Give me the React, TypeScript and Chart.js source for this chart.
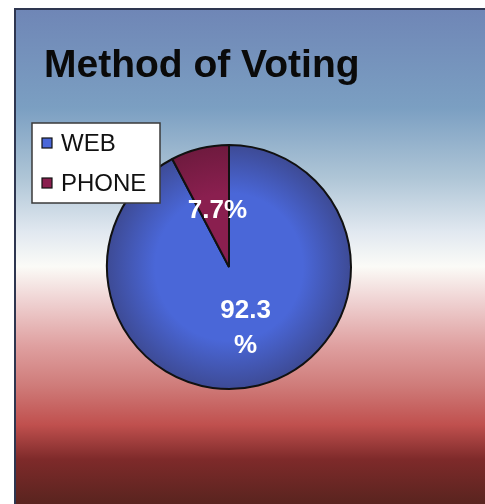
import React, { useEffect, useRef } from "react";
import { Chart, registerables } from "chart.js";

Chart.register(...registerables);

const categories = ["WEB", "PHONE"];
const shares = [92.3, 7.7];
const sliceLabels = [["92.3", "%"], ["7.7%"]];
const sliceColors = ["#4a67d8", "#8a1f4f"];
const sliceEdgeColors = ["#3d4a94", "#6e1a3e"];
const titleText = "Method of Voting";

const W = 485;
const H = 504;

const backgroundPlugin = {
  id: "bgFrame",
  beforeDraw(chart: any) {
    const ctx = chart.ctx;
    ctx.save();
    ctx.fillStyle = "#ffffff";
    ctx.fillRect(0, 0, W, H);
    const g = ctx.createLinearGradient(0, 9, 0, H);
    g.addColorStop(0, "#6f86b6");
    g.addColorStop(0.2, "#7b9fc2");
    g.addColorStop(0.34, "#aec5d6");
    g.addColorStop(0.45, "#e1e8f0");
    g.addColorStop(0.52, "#fbfbf7");
    g.addColorStop(0.59, "#efd2d2");
    g.addColorStop(0.68, "#dfa0a0");
    g.addColorStop(0.76, "#cf7c7a");
    g.addColorStop(0.84, "#c0504e");
    g.addColorStop(0.91, "#7e2a2a");
    g.addColorStop(1, "#59241f");
    ctx.fillStyle = g;
    ctx.fillRect(15, 9, W - 15, H - 9);
    ctx.strokeStyle = "#2e3650";
    ctx.lineWidth = 2;
    ctx.beginPath();
    ctx.moveTo(15, H);
    ctx.lineTo(15, 9);
    ctx.lineTo(W, 9);
    ctx.stroke();
    // title
    ctx.fillStyle = "#0a0a0a";
    ctx.font = "bold 39px 'Liberation Sans', Arial, sans-serif";
    ctx.textBaseline = "alphabetic";
    ctx.textAlign = "left";
    ctx.fillText(titleText, 44, 77);
    ctx.restore();
  },
};

const overlayPlugin = {
  id: "overlay",
  afterDatasetsDraw(chart: any) {
    const ctx = chart.ctx;
    const meta = chart.getDatasetMeta(0);
    ctx.save();
    // slice labels
    ctx.fillStyle = "#ffffff";
    ctx.font = "bold 26px 'Liberation Sans', Arial, sans-serif";
    ctx.textAlign = "center";
    ctx.textBaseline = "middle";
    meta.data.forEach((arc: any, i: number) => {
      const p = arc.tooltipPosition();
      const lines = sliceLabels[i];
      const lh = 35;
      const multi = lines.length > 1;
      lines.forEach((t: string, k: number) => {
        const x = p.x + (multi ? 2 : 3);
        const y = multi ? p.y - 15 + k * lh : p.y + 3;
        ctx.fillText(t, x, y);
      });
    });
    // legend
    const lx = 32, ly = 123, lw = 128, lh2 = 80;
    ctx.fillStyle = "#ffffff";
    ctx.fillRect(lx, ly, lw, lh2);
    ctx.strokeStyle = "#3a3a3a";
    ctx.lineWidth = 1.5;
    ctx.strokeRect(lx, ly, lw, lh2);
    ctx.font = "24px 'Liberation Sans', Arial, sans-serif";
    ctx.textAlign = "left";
    ctx.textBaseline = "middle";
    categories.forEach((c, i) => {
      const cy = 143 + i * 40;
      ctx.fillStyle = sliceColors[i];
      ctx.fillRect(42, cy - 5, 10, 10);
      ctx.strokeStyle = "#111111";
      ctx.lineWidth = 1.2;
      ctx.strokeRect(42, cy - 5, 10, 10);
      ctx.fillStyle = "#111111";
      ctx.fillText(c, 61, cy + 1);
    });
    ctx.restore();
  },
};

export default function App() {
  const ref = useRef<HTMLCanvasElement | null>(null);
  useEffect(() => {
    if (!ref.current) return;
    const chart = new Chart(ref.current, {
      type: "pie",
      data: {
        labels: categories,
        datasets: [
          {
            data: shares,
            backgroundColor: (ctx: any) => {
              const c = ctx.chart;
              const a = c.chartArea;
              if (!a) return sliceColors[ctx.dataIndex];
              const cx = (a.left + a.right) / 2;
              const cy = (a.top + a.bottom) / 2;
              const r = Math.min(a.right - a.left, a.bottom - a.top) / 2;
              const g = c.ctx.createRadialGradient(cx, cy, 0, cx, cy, r);
              g.addColorStop(0, sliceColors[ctx.dataIndex]);
              g.addColorStop(0.6, sliceColors[ctx.dataIndex]);
              g.addColorStop(1, sliceEdgeColors[ctx.dataIndex]);
              return g;
            },
            borderColor: "#111111",
            borderWidth: 2,
          },
        ],
      },
      options: {
        animation: false,
        responsive: false,
        maintainAspectRatio: false,
        layout: { padding: { left: 106, right: 133, top: 142, bottom: 112 } },
        plugins: {
          legend: { display: false },
          title: { display: false },
          tooltip: { enabled: false },
        },
      },
      plugins: [backgroundPlugin, overlayPlugin],
    });
    return () => chart.destroy();
  }, []);
  return (
    <div style={{ position: "fixed", left: 0, top: 0, width: W, height: H }}>
      <canvas ref={ref} width={W} height={H} style={{ width: W, height: H, display: "block" }} />
    </div>
  );
}
